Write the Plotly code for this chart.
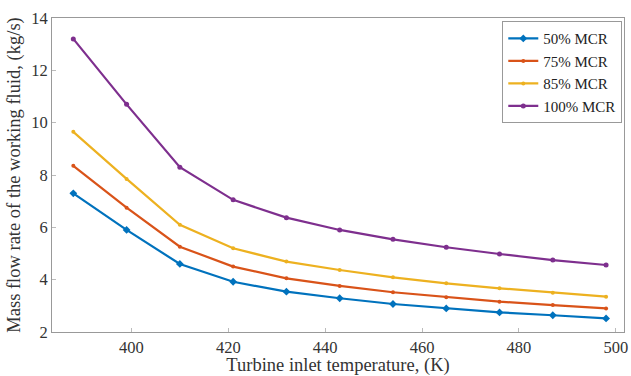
import plotly.graph_objects as go

temps = [388, 399, 410, 421, 432, 443, 454, 465, 476, 487, 498]
mcr50 = [7.3, 5.9, 4.6, 3.92, 3.54, 3.29, 3.07, 2.9, 2.75, 2.64, 2.52]
mcr75 = [8.35, 6.75, 5.26, 4.5, 4.05, 3.76, 3.52, 3.33, 3.16, 3.03, 2.9]
mcr85 = [9.65, 7.85, 6.1, 5.2, 4.69, 4.37, 4.09, 3.86, 3.67, 3.5, 3.35]
mcr100 = [13.2, 10.7, 8.3, 7.05, 6.37, 5.9, 5.54, 5.24, 4.98, 4.75, 4.56]

names = ["50% MCR", "75% MCR", "85% MCR", "100% MCR"]
series = [mcr50, mcr75, mcr85, mcr100]
colors = ["#0072BD", "#D95319", "#EDB120", "#7E2F8E"]
symbols = ["diamond", "circle", "circle", "circle"]
msizes = [6, 4, 4, 5]

fig = go.Figure()
for n, s, c, sym, ms in zip(names, series, colors, symbols, msizes):
    fig.add_trace(go.Scatter(x=temps, y=s, name=n, mode="lines+markers",
                             line=dict(color=c, width=2.2),
                             marker=dict(symbol=sym, size=ms, color=c)))

font = "Liberation Serif, Times New Roman, serif"
fig.update_layout(
    width=631, height=376,
    margin=dict(l=52, r=3, t=18, b=44),
    paper_bgcolor="white", plot_bgcolor="white",
    font=dict(family=font, size=16.5, color="#333333"),
    showlegend=True,
    legend=dict(x=0.997, y=0.99, xanchor="right", yanchor="top",
                bgcolor="white", bordercolor="#999999", borderwidth=1,
                font=dict(family=font, size=15, color="#222222"),
                tracegroupgap=0, itemwidth=30),
    xaxis=dict(range=[383.6, 501.7], tickvals=[400, 420, 440, 460, 480, 500],
               ticklabeloverflow="allow",
               showgrid=False, zeroline=False, showline=True, linecolor="#999999",
               linewidth=1, mirror=True, ticks="inside", ticklen=4, tickcolor="#bbbbbb",
               title=dict(text="Turbine inlet temperature, (K)", standoff=1,
                          font=dict(size=18.5, color="#333333"))),
    yaxis=dict(range=[2, 14], tickvals=[2, 4, 6, 8, 10, 12, 14],
               showgrid=False, zeroline=False, showline=True, linecolor="#999999",
               linewidth=1, mirror=True, ticks="inside", ticklen=4, tickcolor="#bbbbbb",
               title=dict(text="Mass flow rate of the working fluid, (kg/s)", standoff=5,
                          font=dict(size=18.5, color="#333333"))),
)
fig.write_html("out.html")
